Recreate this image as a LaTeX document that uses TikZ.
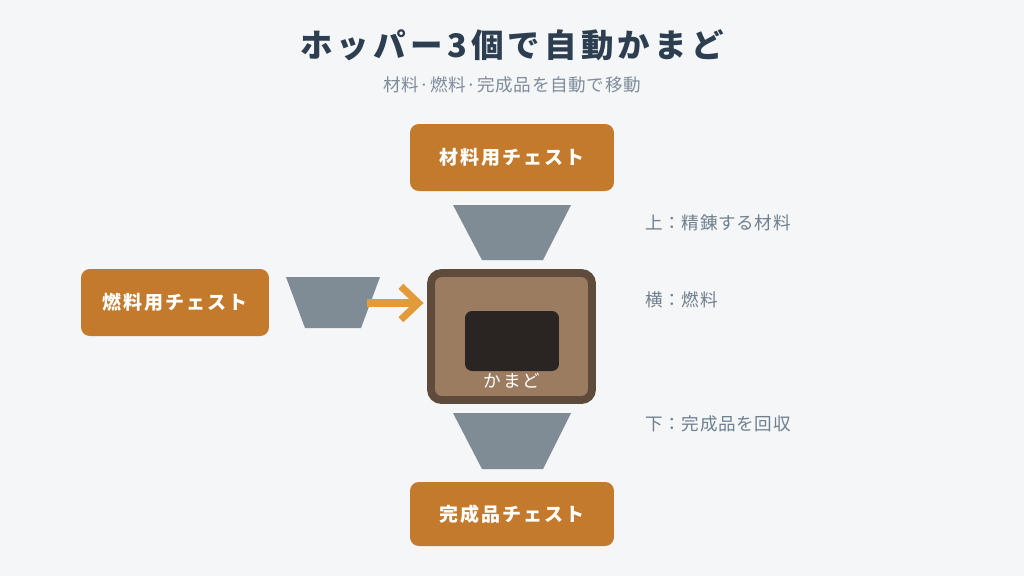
\documentclass[tikz,border=0pt]{standalone}
\usepackage{fontspec}
\setmainfont{Noto Sans CJK JP}
\usetikzlibrary{positioning,arrows.meta}

\definecolor{bgcol}{HTML}{F4F6F8}
\definecolor{titlecol}{HTML}{2C3E50}
\definecolor{subcol}{HTML}{7F8C9A}
\definecolor{notecol}{HTML}{6E7F8E}
\definecolor{chestcol}{HTML}{C47A2C}
\definecolor{hoppercol}{HTML}{7F8C96}
\definecolor{kamadocol}{HTML}{9C7C61}
\definecolor{kamadoedge}{HTML}{5E4B3C}
\definecolor{firecol}{HTML}{2A2522}
\definecolor{arrowcol}{HTML}{E29B3A}

\tikzset{
  chest/.style={fill=chestcol, rounded corners=5pt, text=white,
    font=\fontsize{10.8}{12}\selectfont\bfseries\addfontfeature{LetterSpace=11},
    minimum height=1.34cm, inner sep=0pt},
  hopper/.style={fill=hoppercol},
  note/.style={anchor=west, text=notecol, inner sep=0pt,
    font=\fontsize{10}{12}\selectfont\addfontfeature{LetterSpace=4}},
  feed/.style={arrowcol, line width=4pt,
    -{Straight Barb[length=10pt, width=19pt, line width=4pt]}}
}

\begin{document}
\begin{tikzpicture}[x=0.02cm, y=-0.02cm]
        \fill[bgcol] (0,0) rectangle (1024,576);
        \useasboundingbox (0,0) rectangle (1024,576);

        % title
        \node[text=titlecol, font=\fontsize{18.5}{22}\selectfont\bfseries\addfontfeature{LetterSpace=13}] (title) at (512,45) {ホッパー3個で自動かまど};
        \node[text=subcol, font=\fontsize{10}{12}\selectfont\addfontfeature{LetterSpace=4}] (subtitle) at (512,85) {材料·燃料·完成品を自動で移動};

        % chests
        \node[chest, minimum width=4.08cm] (topchest) at (512,157.5) {材料用チェスト};
        \node[chest, minimum width=3.76cm] (sidechest) at (175,302.5) {燃料用チェスト};
        \node[chest, minimum width=4.08cm, minimum height=1.28cm] (botchest) at (512,514) {完成品チェスト};

        % hoppers
        \fill[hopper] (453,205) -- (571,205) -- (543,260) -- (482,260) -- cycle;
        \fill[hopper] (286,277) -- (380,277) -- (361,328) -- (305,328) -- cycle;
        \fill[hopper] (453,413) -- (571,413) -- (543,469) -- (482,469) -- cycle;
        \coordinate (sidehopper) at (367,303);

        % kamado
        \node[draw=kamadoedge, fill=kamadocol, line width=4.5pt, rounded corners=6pt,
              minimum width=3.22cm, minimum height=2.54cm] (kamado) at (511.5,336.5) {};
        \node[fill=firecol, rounded corners=4pt, minimum width=1.88cm, minimum height=1.2cm] (fire) at (512,341) {};
        \node[text=white, font=\fontsize{10}{12}\selectfont\addfontfeature{LetterSpace=10}] (label) at (512,381) {かまど};

        \draw[feed] (sidehopper) -- ([xshift=-2pt]sidehopper -| kamado.west);

        % notes
        \node[note] (noteup) at (645,223) {上：精錬する材料};
        \node[note] (noteside) at (645,300) {横：燃料};
        \node[note] (notedown) at (645,424) {下：完成品を回収};
    \end{tikzpicture}
\end{document}
